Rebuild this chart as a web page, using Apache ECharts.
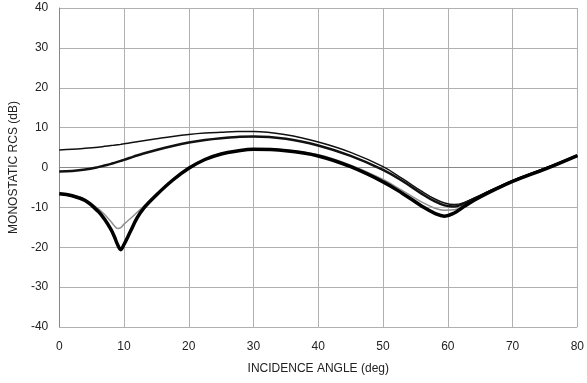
<!DOCTYPE html>
<html>
<head>
<meta charset="utf-8">
<script src="https://cdn.jsdelivr.net/npm/echarts@6/dist/echarts.min.js"></script>
<style>html,body{margin:0;padding:0;background:#fff;}#c{width:587px;height:383px;}</style>
</head>
<body>
<div id="c"></div>
<script>
var angles = [0,2,4,6,7,8,8.5,9,9.5,10,11,12,13,15,17.5,20,22.5,25,27.5,30,35,40,45,50,53,56,58,59.5,61,62.5,65,70,75,80];
var thinCurve = [4.4,4.55,4.8,5.1,5.3,5.5,5.6,5.7,5.8,5.95,6.2,6.45,6.7,7.2,7.8,8.3,8.65,8.85,9.0,9.0,8.2,6.4,3.8,0.2,-2.8,-6.0,-7.9,-8.9,-9.3,-8.8,-7.0,-3.3,-0.2,3.0];
var mediumCurve = [-1.0,-0.85,-0.5,0.1,0.5,0.9,1.15,1.4,1.65,1.9,2.45,3.0,3.5,4.4,5.4,6.25,6.9,7.35,7.65,7.8,7.2,5.5,2.9,-0.6,-3.4,-6.6,-8.5,-9.5,-9.8,-9.0,-7.1,-3.4,-0.3,3.0];
var thickCurve = [-6.6,-7.1,-8.3,-11.0,-13.0,-15.6,-17.3,-19.3,-20.6,-19.3,-16.0,-12.7,-10.3,-6.9,-3.2,-0.2,2.0,3.4,4.15,4.55,4.2,2.9,0.2,-3.6,-6.5,-9.7,-11.5,-12.2,-11.4,-9.8,-7.4,-3.5,-0.4,3.0];
var grayCurve = [-6.3,-6.9,-8.0,-10.3,-11.8,-13.6,-14.6,-15.3,-15.1,-14.2,-12.8,-11.3,-9.8,-6.7,-3.0,0.0,2.1,3.5,4.2,4.6,4.4,3.2,0.6,-3.0,-5.8,-8.7,-10.2,-10.7,-10.6,-9.5,-7.2,-3.4,-0.3,3.0];
var xTicks = [0,10,20,30,40,50,60,70,80];
var yTicks = [-40,-30,-20,-10,0,10,20,30,40];

function pairs(vals){ return angles.map(function(a,i){ return [a, vals[i]]; }); }

var chart = echarts.init(document.getElementById('c'), null, {renderer:'canvas'});
var fontFam = '"Liberation Sans", Arial, sans-serif';
chart.setOption({
  animation: false,
  backgroundColor: '#fff',
  grid: {left: 58, right: 9, top: 8, bottom: 56, containLabel: false},
  xAxis: {
    type: 'value', min: xTicks[0], max: xTicks[xTicks.length-1], interval: 10,
    name: 'INCIDENCE ANGLE (deg)', nameLocation: 'middle', nameGap: 36,
    nameTextStyle: {color: '#222', fontSize: 12, fontFamily: fontFam},
    axisLine: {show: true, lineStyle: {color: '#888', width: 1}},
    axisTick: {show: false},
    axisLabel: {color: '#222', fontSize: 12, fontFamily: fontFam, margin: 14},
    splitLine: {show: true, lineStyle: {color: '#b0b0b0', width: 1}}
  },
  yAxis: {
    type: 'value', min: yTicks[0], max: yTicks[yTicks.length-1], interval: 10,
    name: 'MONOSTATIC RCS (dB)', nameLocation: 'middle', nameGap: 38, nameRotate: 90,
    nameTextStyle: {color: '#222', fontSize: 12, fontFamily: fontFam},
    axisLine: {show: true, lineStyle: {color: '#888', width: 1}},
    axisTick: {show: false},
    axisLabel: {color: '#222', fontSize: 12, fontFamily: fontFam, margin: 11},
    splitLine: {show: true, lineStyle: {color: '#b0b0b0', width: 1}}
  },
  series: [
    {type:'line', data: pairs(grayCurve), smooth: 0.4, showSymbol:false, lineStyle:{color:'#909090', width:1.5}, z:2},
    {type:'line', data: pairs(thinCurve), smooth: 0.4, showSymbol:false, lineStyle:{color:'#111', width:1.5}, z:3},
    {type:'line', data: pairs(mediumCurve), smooth: 0.4, showSymbol:false, lineStyle:{color:'#111', width:2.5}, z:3},
    {type:'line', data: pairs(thickCurve), smooth: 0.4, showSymbol:false, lineStyle:{color:'#000', width:3.5}, z:4}
  ]
});
</script>
</body>
</html>
